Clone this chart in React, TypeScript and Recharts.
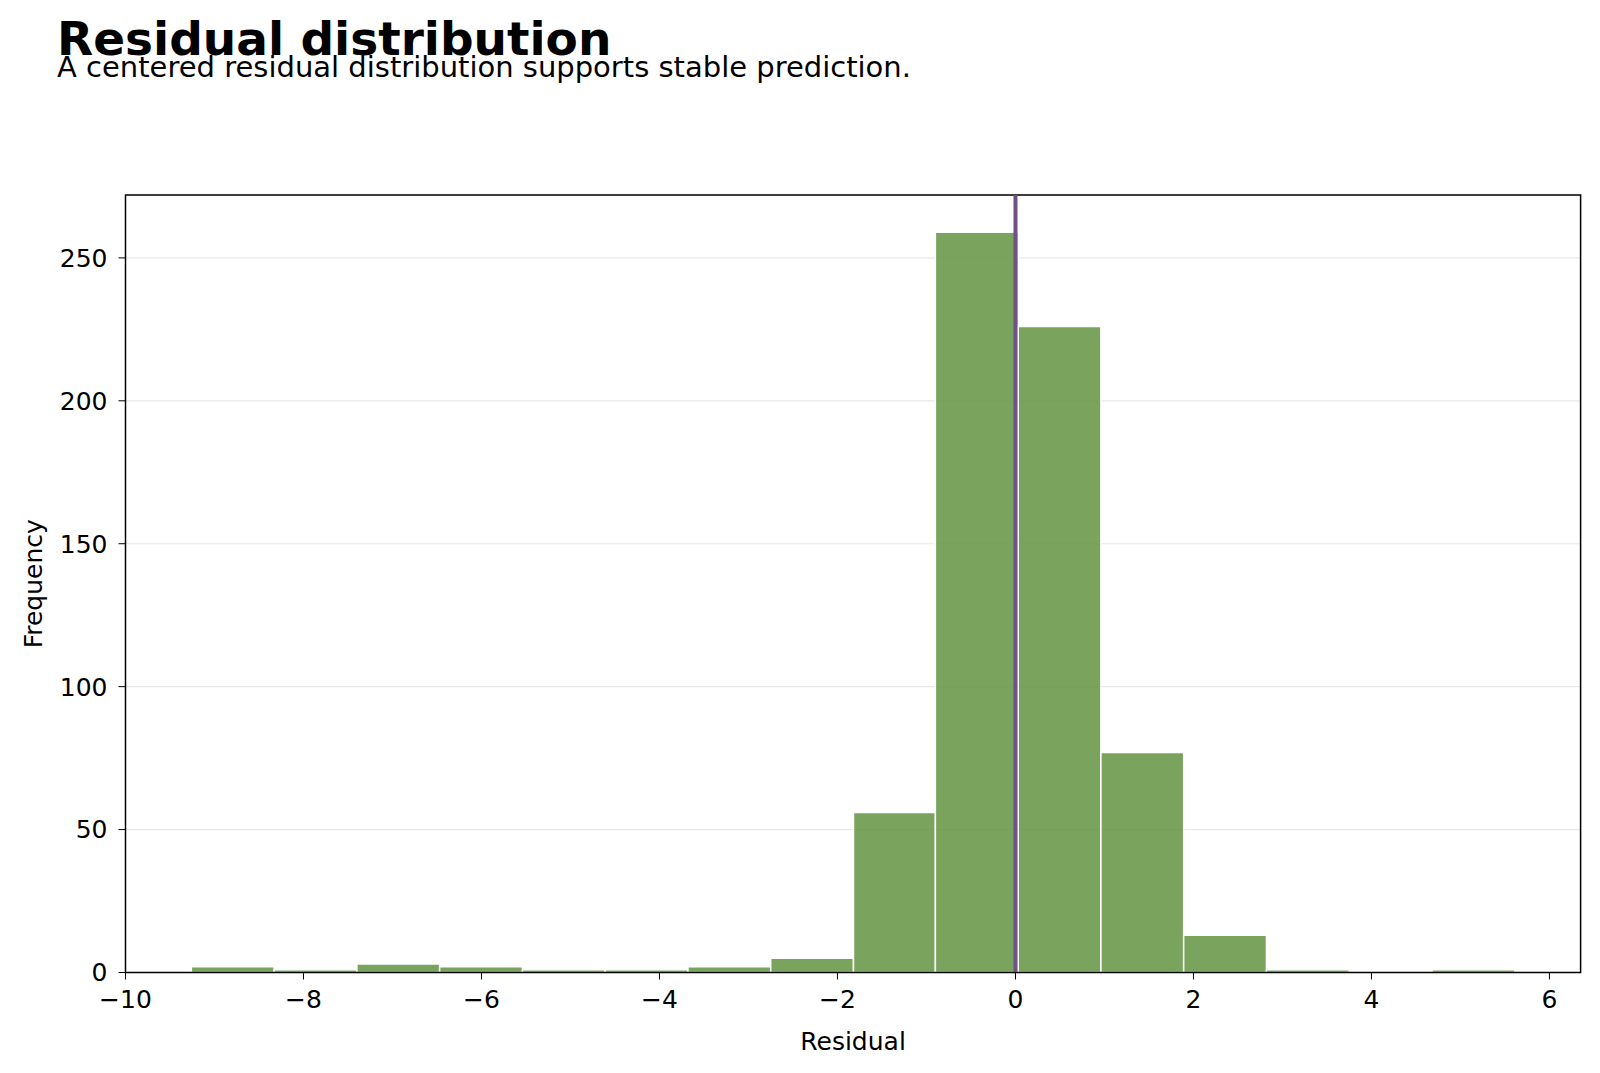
import React from "react";
import {
  ComposedChart,
  Line,
  XAxis,
  YAxis,
  CartesianGrid,
  ReferenceArea,
  ReferenceLine,
} from "recharts";

// histogram bins (16 equal bins)
const binEdges = [
  -9.26, -8.33, -7.4, -6.47, -5.54, -4.61, -3.68, -2.75, -1.82, -0.9, 0.03, 0.96,
  1.89, 2.82, 3.75, 4.68, 5.61,
];
const counts = [2, 1, 3, 2, 1, 1, 2, 5, 56, 259, 226, 77, 13, 1, 0, 1];
const meanResidual = 0.0;

const xTicks = [-10, -8, -6, -4, -2, 0, 2, 4, 6];
const yTicks = [0, 50, 100, 150, 200, 250];
const xDomain = [-10.0, 6.35];
const yDomain = [0, 272];

const bins = counts.map((count, i) => ({
  x0: binEdges[i],
  x1: binEdges[i + 1],
  center: (binEdges[i] + binEdges[i + 1]) / 2,
  count,
}));

const FONT = "'DejaVu Sans', sans-serif";
const BAR = "#639342";
const MEAN = "#6f5087";

const fmt = (v: number) => String(v).replace("-", "\u2212");

export default function App() {
  return (
    <div
      style={{
        position: "absolute",
        top: 0,
        left: 0,
        width: 1600,
        height: 1073,
        background: "#fff",
        fontFamily: FONT,
      }}
    >
      <ComposedChart
        width={1600}
        height={1073}
        data={bins}
        margin={{ top: 195, right: 19.4, bottom: 40.5, left: 65.5 }}
        style={{ position: "absolute", top: 0, left: 0 }}
      >
        <CartesianGrid vertical={false} stroke="#e8e8e8" strokeWidth={1.2} />
        <XAxis
          type="number"
          dataKey="center"
          domain={xDomain}
          ticks={xTicks}
          allowDataOverflow
          tickFormatter={fmt}
          height={60}
          tickSize={7}
          tickMargin={11}
          stroke="#000"
          tick={{ fill: "#000", fontSize: 25, fontFamily: FONT }}
          label={{
            value: "Residual",
            position: "insideBottom",
            offset: -17,
            fill: "#000",
            fontSize: 25,
            fontFamily: FONT,
          }}
        />
        <YAxis
          type="number"
          domain={yDomain}
          ticks={yTicks}
          allowDataOverflow
          width={60}
          tickSize={7}
          tickMargin={11}
          stroke="#000"
          tick={{ fill: "#000", fontSize: 25, fontFamily: FONT }}
          label={{
            value: "Frequency",
            angle: -90,
            position: "insideLeft",
            offset: -32,
            fill: "#000",
            fontSize: 25,
            fontFamily: FONT,
            style: { textAnchor: "middle" },
          }}
        />
        {bins.map((b, i) => (
          <ReferenceArea
            key={i}
            x1={b.x0}
            x2={b.x1}
            y1={0}
            y2={b.count}
            fill={BAR}
            fillOpacity={0.85}
            stroke="#fff"
            strokeWidth={1.5}
            strokeOpacity={1}
            ifOverflow="visible"
          />
        ))}
        <Line
          dataKey="count"
          stroke="none"
          dot={false}
          activeDot={false}
          isAnimationActive={false}
          legendType="none"
        />
        <ReferenceLine x={meanResidual} stroke={MEAN} strokeWidth={4} />
        <ReferenceArea
          x1={xDomain[0]}
          x2={xDomain[1]}
          y1={yDomain[0]}
          y2={yDomain[1]}
          fill="none"
          stroke="#000"
          strokeWidth={1.5}
          strokeOpacity={1}
          ifOverflow="visible"
        />
      </ComposedChart>
      <div
        style={{
          position: "absolute",
          left: 57,
          top: 11,
          fontSize: 47,
          fontWeight: "bold",
          lineHeight: "56px",
          color: "#000",
          whiteSpace: "nowrap",
        }}
      >
        Residual distribution
      </div>
      <div
        style={{
          position: "absolute",
          left: 57,
          top: 50,
          fontSize: 29,
          lineHeight: "34px",
          color: "#000",
          whiteSpace: "nowrap",
        }}
      >
        A centered residual distribution supports stable prediction.
      </div>
    </div>
  );
}
